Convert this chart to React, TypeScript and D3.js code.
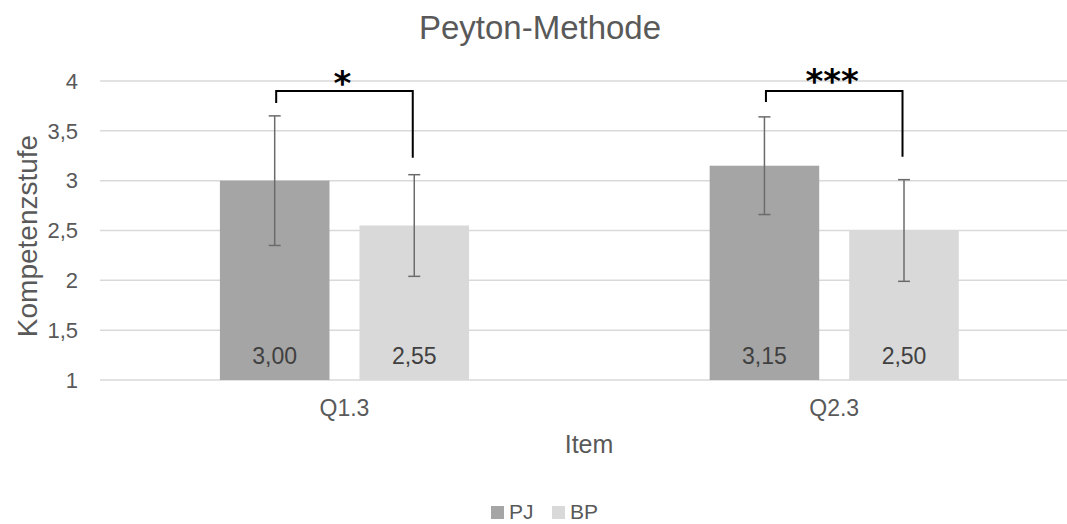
import React from "react";
import * as d3 from "d3";

const categories = ["Q1.3", "Q2.3"];
const seriesNames = ["PJ", "BP"];
const pjValues = [3.0, 3.15];
const bpValues = [2.55, 2.5];
const pjErrors = [0.65, 0.49];
const bpErrors = [0.51, 0.51];
const yTicks = [1, 1.5, 2, 2.5, 3, 3.5, 4];
const sigLabels = ["*", "***"];
const bracketTop = [3.9, 3.9];
const bracketLeftEnd = [3.78, 3.79];
const bracketRightEnd = [3.23, 3.24];

const W = 1067;
const H = 524;
const colors: Record<string, string> = { PJ: "#a5a5a5", BP: "#d9d9d9" };
const FONT = "'Liberation Sans', Arial, sans-serif";
const TEXT = "#595959";

export default function App() {
  const x0 = d3.scaleBand<string>().domain(categories).range([99.6, 1079.1]).padding(0);
  const x1 = d3
    .scaleBand<string>()
    .domain(seriesNames)
    .range([0, x0.bandwidth()])
    .paddingInner(0.215)
    .paddingOuter(0.862);
  const y = d3.scaleLinear().domain([1, 4]).range([380, 81]);
  const fmt = (v: number) => d3.format(".2f")(v).replace(".", ",");
  const tickFmt = (v: number) => String(v).replace(".", ",");

  const rows = categories.map((c, i) => ({
    cat: c,
    vals: [
      { s: "PJ", v: pjValues[i], e: pjErrors[i] },
      { s: "BP", v: bpValues[i], e: bpErrors[i] },
    ],
  }));

  return (
    <svg
      width={W}
      height={H}
      style={{ position: "absolute", left: 0, top: 0, background: "#fff" }}
      fontFamily={FONT}
    >
      <rect width={W} height={H} fill="#fff" />
      <text x={540} y={39} textAnchor="middle" fontSize={33} fill={TEXT}>
        Peyton-Methode
      </text>
      {yTicks.map((t) => (
        <g key={t}>
          <line x1={100} x2={W} y1={y(t)} y2={y(t)} stroke="#d9d9d9" strokeWidth={1.5} />
          <text x={78} y={y(t)} dy="0.35em" textAnchor="end" fontSize={22} fill={TEXT}>
            {tickFmt(t)}
          </text>
        </g>
      ))}
      {rows.map((r, i) => {
        const gx = x0(r.cat)!;
        return (
          <g key={r.cat}>
            {r.vals.map((d) => {
              const bx = gx + x1(d.s)!;
              const bw = x1.bandwidth();
              const cx = bx + bw / 2;
              return (
                <g key={d.s}>
                  <rect x={bx} y={y(d.v)} width={bw} height={y(1) - y(d.v)} fill={colors[d.s]} />
                  <text x={cx} y={364} textAnchor="middle" fontSize={23} fill="#404040">
                    {fmt(d.v)}
                  </text>
                  <g stroke="#6b6b6b" strokeWidth={1.5}>
                    <line x1={cx} x2={cx} y1={y(d.v + d.e)} y2={y(d.v - d.e)} />
                    <line x1={cx - 6} x2={cx + 6} y1={y(d.v + d.e)} y2={y(d.v + d.e)} />
                    <line x1={cx - 6} x2={cx + 6} y1={y(d.v - d.e)} y2={y(d.v - d.e)} />
                  </g>
                </g>
              );
            })}
            {(() => {
              const lx = gx + x1("PJ")! + x1.bandwidth() / 2 + 1.5;
              const rx = gx + x1("BP")! + x1.bandwidth() / 2 - 1.5;
              const ty = y(bracketTop[i]);
              return (
                <g>
                  <path
                    d={`M${lx},${y(bracketLeftEnd[i])}V${ty}H${rx}V${y(bracketRightEnd[i])}`}
                    fill="none"
                    stroke="#000"
                    strokeWidth={2}
                  />
                  <text
                    x={(lx + rx) / 2 - 2}
                    y={ty + 4 - i * 2}
                    textAnchor="middle"
                    fontSize={34}
                    fontWeight="bold"
                    fontFamily="'DejaVu Sans', sans-serif"
                    fill="#000"
                  >
                    {sigLabels[i]}
                  </text>
                </g>
              );
            })()}
            <text x={gx + x0.bandwidth() / 2} y={416} textAnchor="middle" fontSize={23} fill={TEXT}>
              {r.cat}
            </text>
          </g>
        );
      })}
      <text x={589} y={453} textAnchor="middle" fontSize={25} fill={TEXT}>
        Item
      </text>
      <text
        transform={`translate(27,236) rotate(-90)`}
        dy="0.35em"
        textAnchor="middle"
        fontSize={28}
        fill={TEXT}
      >
        Kompetenzstufe
      </text>
      {seriesNames.map((s, i) => {
        const lx = 491 + i * 61;
        return (
          <g key={s}>
            <rect x={lx} y={506} width={13} height={13} fill={colors[s]} />
            <text x={lx + 18} y={519} fontSize={21} fill={TEXT}>
              {s}
            </text>
          </g>
        );
      })}
    </svg>
  );
}
